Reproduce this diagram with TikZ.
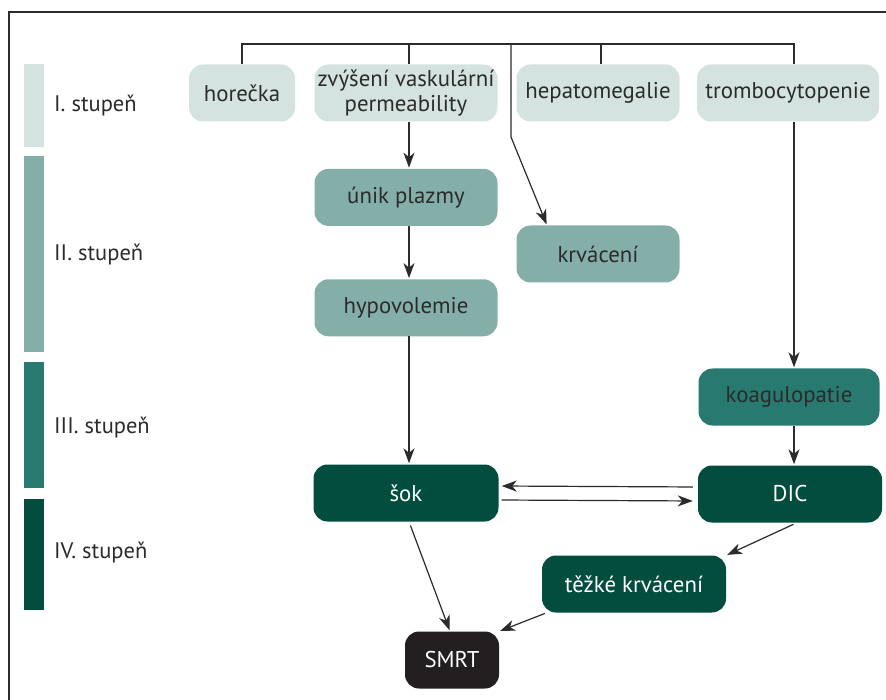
\documentclass[tikz,border=0pt]{standalone}
\usepackage{fontspec}
\setmainfont{PT Sans}
\usetikzlibrary{positioning}
\usetikzlibrary{arrows.meta}
\definecolor{stageone}{HTML}{D4E3DF}
\definecolor{stagetwo}{HTML}{84AFA9}
\definecolor{stagethree}{HTML}{287A70}
\definecolor{stagefour}{HTML}{024D3E}
\definecolor{deathbox}{HTML}{231F20}
\definecolor{inkgray}{HTML}{2B2B2B}
\tikzset{box/.style={
          rounded corners=14pt,
          minimum height=57pt,
          inner sep=0pt,
          align=center,
          font=\fontsize{22.8}{25}\selectfont
          },
        stageI/.style={box, fill=stageone, text=inkgray},
        stageII/.style={box, fill=stagetwo, text=inkgray},
        stageIII/.style={box, fill=stagethree, text=inkgray},
        stageIV/.style={box, fill=stagefour, text=white},
        death/.style={box, fill=deathbox, text=white},
        legend/.style={anchor=west, inner sep=0pt, text=inkgray, font=\fontsize{22.5}{25}\selectfont},
        wire/.style={draw=inkgray, line width=1.2pt},
        arrow/.style={wire, -{Stealth[length=15pt, width=11pt, inset=4.5pt]}, shorten >=1pt},
}

\begin{document}
\begin{tikzpicture}[x=1pt, y=-1pt]
      \useasboundingbox (0,0) rectangle (886,700);
      % FRAME
      \draw[draw=inkgray, line width=1.6pt] (9,700) -- (9,12) -- (886,12);

      % STAGE LEGEND
      \fill[stageone] (24,64) rectangle (44,147);
      \fill[stagetwo] (24,156) rectangle (44,352);
      \fill[stagethree] (24,362) rectangle (44,488);
      \fill[stagefour] (24,499) rectangle (44,610);
      \node[legend] (leg1) at (54,106) {I. stupeň};
      \node[legend] (leg2) at (54,255) {II. stupeň};
      \node[legend] (leg3) at (54,428) {III. stupeň};
      \node[legend] (leg4) at (54,553) {IV. stupeň};

      % I. STUPEN
      \node[stageI, minimum width=106pt] (horecka) at (242,93) {horečka};
      \node[stageI, minimum width=183pt] (permea) at (406,93) {zvýšení vaskulární\\permeability};
      \node[stageI, minimum width=163pt] (hepato) at (598,93) {hepatomegalie};
      \node[stageI, minimum width=182pt] (trombo) at (788,93) {trombocytopenie};

      % II. STUPEN
      \node[stageII, minimum width=183pt, below=47pt of permea] (unik) {únik plazmy};
      \node[stageII, minimum width=163pt] (krvaceni) at (598,254) {krvácení};
      \node[stageII, minimum width=183pt, below=53pt of unik] (hypo) {hypovolemie};

      % III. STUPEN
      \node[stageIII, minimum width=181pt] (koagul) at (789,397) {koagulopatie};

      % IV. STUPEN
      \node[stageIV, minimum width=185pt] (sok) at (406,493) {šok};
      \node[stageIV, minimum width=184pt] (dic) at (790,494) {DIC};
      \node[stageIV, minimum width=184pt] (tezke) at (634,584) {těžké krvácení};
      \node[death, minimum width=94pt] (smrt) at (452,660) {SMRT};

      % TOP BUS
      \coordinate (bus) at (0,44);
      \coordinate (tdrop) at ([xshift=6pt]trombo.north);
      \coordinate (kdrop) at (511,137);
      \draw[wire] (horecka.north) |- (bus -| tdrop) -- (tdrop);
      \draw[wire] ([xshift=3pt]permea.north) -- ([xshift=3pt]permea.north |- bus);
      \draw[wire] ([xshift=3pt]hepato.north) -- ([xshift=3pt]hepato.north |- bus);
      \draw[arrow] (bus -| kdrop) -- (kdrop) -- ([xshift=-51pt]krvaceni.north);

      % ARROWS
      \draw[arrow] ([xshift=3pt]permea.south) -- ([xshift=3pt]unik.north);
      \draw[arrow] ([xshift=3pt]unik.south) -- ([xshift=3pt]hypo.north);
      \draw[arrow] ([xshift=3pt]hypo.south) -- ([xshift=3pt]sok.north);
      \draw[arrow] ([xshift=6pt]trombo.south) -- ([xshift=5pt]koagul.north);
      \draw[arrow] ([xshift=5pt]koagul.south) -- ([xshift=4pt]dic.north);
      \draw[arrow, shorten <=5pt, shorten >=3pt] ([yshift=7pt]dic.west) -- ([yshift=7pt]sok.east);
      \draw[arrow, shorten <=3pt, shorten >=5pt] ([yshift=-7pt]sok.east) -- ([yshift=-7pt]dic.west);
      \draw[arrow, shorten <=4pt] ([xshift=3pt]sok.south) -- ([xshift=-2pt]smrt.north);
      \draw[arrow, shorten <=4pt] ([xshift=7pt]dic.south) -- (tezke.north east);
      \draw[arrow, shorten <=2pt] ([xshift=5pt]tezke.south west) -- (smrt.north east);

\end{tikzpicture}
\end{document}
